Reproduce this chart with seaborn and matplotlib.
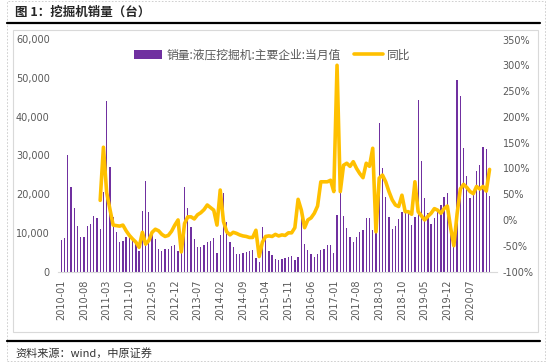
import matplotlib
matplotlib.use("Agg")
import matplotlib.pyplot as plt
import matplotlib.ticker as mticker
from matplotlib.lines import Line2D
from matplotlib.patches import Patch, Rectangle
import numpy as np
import pandas as pd
import seaborn as sns

TITLE = "图 1：挖掘机销量（台）"
SOURCE = "资料来源：wind，中原证券"
BAR_LABEL = "销量:液压挖掘机:主要企业:当月值"
LINE_LABEL = "同比"

MONTHS = [p.strftime("%Y-%m") for p in pd.period_range("2010-01", "2021-01", freq="M")]

# monthly sales (units), 2010-01 .. 2021-01
SALES = [
    8150, 8750, 30130, 21850, 16500, 11680, 9000, 8840, 11680, 12280, 14350, 13920,
    11070, 20560, 44170, 26940, 14180, 10300, 7710, 7890, 9000, 9000, 7970, 7020,
    5300, 15650, 23400, 15400, 10500, 8300, 5900, 5400, 5700, 5800, 6600, 6900,
    5200, 5000, 21800, 16300, 11600, 8450, 6350, 6300, 6850, 7540, 7890, 8580,
    4700, 9350, 20220, 12890, 7710, 6250, 4530, 4530, 4780, 5040, 5300, 5470,
    3580, 2460, 11510, 8580, 5390, 4180, 3230, 2970, 3150, 3410, 3830, 4010,
    2970, 3660, 13800, 7110, 5560, 4530, 3660, 4440, 5470, 5900, 6770, 6960,
    4700, 14610, 20640, 14350, 11330, 9000, 7710, 8840, 10300, 10650, 13900, 13900,
    10650, 10300, 38320, 26680, 19350, 14090, 10990, 11770, 13580, 15390, 16240, 15300,
    12030, 14000, 44350, 28580, 18930, 15050, 12200, 13920, 15470, 17200, 19350, 20220,
    9700, 6600, 49520, 45380, 31850, 24700, 19100, 20900, 26000, 27540, 32100, 31600,
    19600,
]

# year-on-year change (%), 2011-01 .. 2021-01
YOY_START = "2011-01"
YOY = [
    38, 141, 53, 21, -10, -11, -12, -10, -21, -30, -37, -43,
    -53, -24, -47, -40, -24, -18, -21, -28, -32, -30, -22, -10,
    0, -62, -7, 6, 6, 2, 10, 14, 20, 29, 24, 19,
    -10, 58, -3, -23, -29, -24, -26, -29, -31, -32, -34, -34,
    -20, -71, -43, -32, -31, -32, -28, -31, -29, -30, -25, -25,
    -15, 40, 19, -15, 0, 4, 13, 27, 74, 74, 74, 77,
    55, 300, 55, 106, 110, 104, 113, 100, 90, 82, 110, 104,
    139, -23, 81, 87, 74, 55, 39, 29, 26, 48, 16, 16,
    11, 74, 16, 8, 0, 7, 13, 22, 19, 13, 22, 27,
    -15, -50, 12, 60, 69, 63, 55, 51, 65, 60, 65, 56,
    98,
]

BAR_COLOR = "#7030A0"
LINE_COLOR = "#FFC000"
TEXT_GREY = "#595959"
CJK = ["Noto Sans CJK SC", "DejaVu Sans"]

W, H = 547, 363

sns.set_style("white")
plt.rcParams["font.family"] = ["DejaVu Sans", "Noto Sans CJK SC"]

df = pd.DataFrame({"month": MONTHS, "sales": SALES})
df["pos"] = np.arange(len(df))
yoy_df = df[df["month"] >= YOY_START].copy()
yoy_df["yoy"] = np.array(YOY) / 100.0

fig = plt.figure(figsize=(W / 100, H / 100), dpi=100)
ax = fig.add_axes([58 / W, (H - 271.5) / H, 439 / W, 232 / H])

# thin bars; antialiasing gives the light/dark stripe look of the original
sns.barplot(data=df, x="pos", y="sales", color=BAR_COLOR, saturation=1,
            width=0.4, linewidth=0, errorbar=None, ax=ax)

ax2 = ax.twinx()
sns.lineplot(data=yoy_df, x="pos", y="yoy", color=LINE_COLOR, linewidth=2.6, ax=ax2)

ax.set_xlim(-1.0, 134.3)
ax.set_ylim(0, 60000)
ax2.set_ylim(-1.0, 3.5)

ticks = list(range(0, len(MONTHS), 7))
ax.set_xticks(ticks)
ax.set_xticklabels([MONTHS[i] for i in ticks], rotation=90)
ax.set_yticks(np.arange(0, 60001, 10000))
ax.yaxis.set_major_formatter(mticker.FuncFormatter(lambda v, _: f"{v:,.0f}"))
ax2.set_yticks(np.arange(-1.0, 3.51, 0.5))
ax2.yaxis.set_major_formatter(mticker.FuncFormatter(lambda v, _: f"{v * 100:.0f}%"))

ax.tick_params(axis="x", length=0, pad=6, labelsize=7, labelcolor=TEXT_GREY)
ax.tick_params(axis="y", length=0, pad=6, labelsize=7, labelcolor=TEXT_GREY)
ax2.tick_params(axis="y", length=0, pad=4, labelsize=7, labelcolor=TEXT_GREY)

for a in (ax, ax2):
    a.set_xlabel("")
    a.set_ylabel("")
    a.grid(False)
    for side in ("top", "left", "right", "bottom"):
        a.spines[side].set_visible(False)
ax.spines["bottom"].set_visible(True)
ax.spines["bottom"].set_color("#D9D9D9")
ax.spines["bottom"].set_linewidth(0.8)

handles = [Patch(facecolor=BAR_COLOR, edgecolor="none"),
           Line2D([], [], color=LINE_COLOR, linewidth=2.6)]
fig.legend(handles, [BAR_LABEL, LINE_LABEL], loc="center left",
           bbox_to_anchor=(134 / W, 1 - 55 / H), ncol=2, frameon=False,
           prop={"family": CJK, "size": 8.5}, labelcolor=TEXT_GREY,
           handlelength=2.4, handletextpad=0.4, columnspacing=1.1,
           borderpad=0, borderaxespad=0)

# page furniture: title, rules, frame, source
fig.text(15 / W, 1 - 12 / H, TITLE, fontsize=9, fontweight="bold",
         va="center", ha="left", family=CJK)
fig.add_artist(Line2D([7 / W, 540 / W], [1 - 22.5 / H] * 2, color="black", linewidth=1.6))
fig.add_artist(Line2D([7 / W, 540 / W], [1 - 341 / H] * 2, color="black", linewidth=1.6))
fig.add_artist(Rectangle((13 / W, 1 - 332 / H), (538 - 13) / W, (332 - 30) / H,
                         transform=fig.transFigure, fill=False,
                         edgecolor="#D9D9D9", linewidth=0.8))
fig.add_artist(Rectangle((7 / W, 1 - 361 / H), (545 - 7) / W, 360 / H,
                         transform=fig.transFigure, fill=False,
                         edgecolor="#C8C8C8", linewidth=0.6, linestyle=(0, (2, 2))))
fig.text(15 / W, 1 - 353 / H, SOURCE, fontsize=8, color="#333333",
         va="center", ha="left", family=CJK)

fig.savefig("out.png", dpi=100)
